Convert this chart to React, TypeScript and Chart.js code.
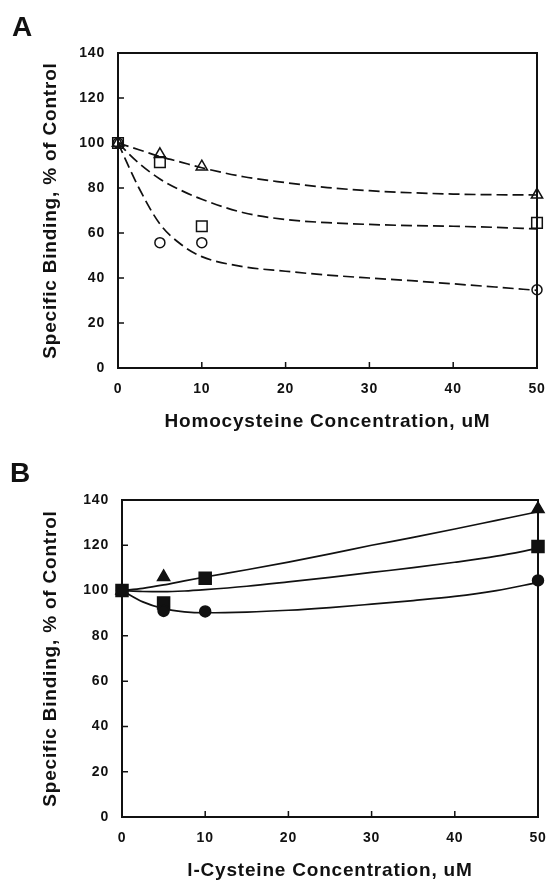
import React, { useEffect, useRef } from 'react';
import { Chart, registerables } from 'chart.js';

Chart.register(...registerables);

// ---- Shared axis values ----
const xMin = 0;
const xMax = 50;
const yMin = 0;
const yMax = 140;
const yStep = 20;
const xInnerTicks = [10, 20, 30, 40];
const yInnerTicks = [20, 40, 60, 80, 100, 120];

// ---- Panel A: Homocysteine (open symbols, dashed fits) ----
const concA = [0, 5, 10, 50];
const triangleA = [100, 95, 89.5, 77];
const squareA = [100, 91.5, 63, 64.5];
const circleA = [100, 55.7, 55.7, 34.8];

const fitX = [0, 2.5, 5, 7.5, 10, 15, 20, 25, 30, 35, 40, 45, 50];
const fitTriangleA = [100, 97, 94, 91.5, 89, 85, 82.4, 80.2, 78.8, 77.9, 77.3, 77, 76.9];
const fitSquareA = [100, 91, 84, 79, 75, 69, 66, 64.6, 63.8, 63.3, 63, 62.5, 61.8];
const fitCircleA = [100, 80, 64, 55, 49.5, 45, 43, 41.3, 40, 38.8, 37.4, 36, 34.5];

// ---- Panel B: l-Cysteine (filled symbols, solid fits) ----
const concB = [0, 5, 10, 50];
const concTriangleB = [0, 5, 50];
const triangleB = [100, 106, 136];
const squareB = [100, 94.5, 105.4, 119.5];
const circleB = [100, 91, 90.8, 104.5];

const fitTriangleB = [100, 101, 102.5, 104.3, 106, 109.2, 112.6, 116.2, 120, 123.5, 127.2, 131, 134.8];
const fitSquareB = [100, 99.6, 99.5, 99.8, 100.4, 101.9, 103.8, 105.8, 108, 110.1, 112.5, 115.2, 118.6];
const fitCircleB = [100, 95, 92, 90.6, 90.2, 90.5, 91.3, 92.5, 94, 95.6, 97.4, 100, 103.6];

const panelLabels = ['A', 'B'];
const xTitles = ['Homocysteine Concentration, uM', 'l-Cysteine Concentration, uM'];
const yTitle = 'Specific Binding, % of Control';

const FONT = "'Liberation Sans', Arial, sans-serif";
const INK = '#111111';

type PanelCfg = {
  label: string;
  labelX: number;
  labelY: number;
  xTitle: string;
  yAxisWidth: number;
  xAxisHeight: number;
  padTop: number;
  padRight: number;
  xTitlePadBottom: number;
  filled: boolean;
  dash: number[];
  markers: { style: string; radius: number; xs: number[]; values: number[] }[];
  fits: number[][];
};

const pts = (xs: number[], ys: number[]) => xs.map((x, i) => ({ x, y: ys[i] }));

function makeChart(canvas: HTMLCanvasElement, cfg: PanelCfg) {
  const framePlugin = {
    id: 'frame',
    beforeDraw(chart: any) {
      chart.ctx.letterSpacing = '0.8px';
    },
    beforeDatasetsDraw(chart: any) {
      const { ctx, chartArea } = chart;
      const xs = chart.scales.x;
      const ys = chart.scales.y;
      ctx.save();
      ctx.letterSpacing = '0px';
      ctx.strokeStyle = INK;
      ctx.lineWidth = 2;
      ctx.strokeRect(chartArea.left, chartArea.top, chartArea.right - chartArea.left, chartArea.bottom - chartArea.top);
      ctx.lineWidth = 1.5;
      ctx.beginPath();
      for (const v of xInnerTicks) {
        const px = xs.getPixelForValue(v);
        ctx.moveTo(px, chartArea.bottom);
        ctx.lineTo(px, chartArea.bottom - 6);
      }
      for (const v of yInnerTicks) {
        const py = ys.getPixelForValue(v);
        ctx.moveTo(chartArea.left, py);
        ctx.lineTo(chartArea.left + 6, py);
      }
      ctx.stroke();
      ctx.restore();
    },
    afterDraw(chart: any) {
      const { ctx } = chart;
      ctx.save();
      ctx.letterSpacing = '0px';
      ctx.fillStyle = INK;
      ctx.font = `bold 28px ${FONT}`;
      ctx.textAlign = 'left';
      ctx.textBaseline = 'alphabetic';
      ctx.fillText(cfg.label, cfg.labelX, cfg.labelY);
      ctx.restore();
    },
  };

  const markerSets = cfg.markers.map((m) => ({
    type: 'scatter' as const,
    data: pts(m.xs, m.values),
    showLine: false,
    clip: false,
    pointStyle: m.style,
    pointRadius: m.radius,
    pointBorderWidth: 1.5,
    pointBorderColor: INK,
    pointBackgroundColor: cfg.filled ? INK : 'rgba(255,255,255,0)',
    borderColor: INK,
    backgroundColor: cfg.filled ? INK : 'rgba(255,255,255,0)',
  }));

  const fitSets = cfg.fits.map((f) => ({
    type: 'scatter' as const,
    data: pts(fitX, f),
    showLine: true,
    clip: false,
    pointRadius: 0,
    borderColor: INK,
    borderWidth: 1.7,
    borderDash: cfg.dash,
    cubicInterpolationMode: 'monotone' as const,
    fill: false,
  }));

  return new Chart(canvas, {
    type: 'scatter',
    data: { datasets: [...markerSets, ...fitSets] as any },
    options: {
      responsive: false,
      animation: false,
      events: [],
      layout: { padding: { left: 0, right: cfg.padRight, top: cfg.padTop, bottom: 0 } },
      plugins: { legend: { display: false }, tooltip: { enabled: false }, title: { display: false } },
      scales: {
        x: {
          type: 'linear',
          min: xMin,
          max: xMax,
          grid: { display: false, drawTicks: false },
          border: { display: false },
          ticks: {
            stepSize: 10,
            padding: 13,
            color: INK,
            font: { family: FONT, size: 14, weight: 'bold' },
          },
          title: {
            display: true,
            text: cfg.xTitle,
            color: INK,
            font: { family: FONT, size: 19, weight: 'bold', lineHeight: 1 },
            padding: { top: 0, bottom: cfg.xTitlePadBottom },
          },
          afterFit: (scale: any) => {
            scale.height = cfg.xAxisHeight;
            scale.paddingLeft = 0;
            scale.paddingRight = 0;
          },
        },
        y: {
          type: 'linear',
          min: yMin,
          max: yMax,
          grid: { display: false, drawTicks: false },
          border: { display: false },
          ticks: {
            stepSize: yStep,
            padding: 13,
            color: INK,
            font: { family: FONT, size: 14, weight: 'bold' },
          },
          title: {
            display: true,
            text: yTitle,
            color: INK,
            font: { family: FONT, size: 19, weight: 'bold', lineHeight: 1 },
            padding: { top: 41, bottom: 0 },
          },
          afterFit: (scale: any) => {
            scale.width = cfg.yAxisWidth;
            scale.paddingTop = 0;
            scale.paddingBottom = 0;
          },
        },
      },
    } as any,
    plugins: [framePlugin],
  });
}

const panelA: PanelCfg = {
  label: panelLabels[0],
  labelX: 12,
  labelY: 36,
  xTitle: xTitles[0],
  yAxisWidth: 118,
  xAxisHeight: 72,
  padTop: 53,
  padRight: 12,
  xTitlePadBottom: 9,
  filled: false,
  dash: [11, 5],
  markers: [
    { style: 'circle', radius: 5, xs: concA, values: circleA },
    { style: 'rect', radius: 7.5, xs: concA, values: squareA },
    { style: 'triangle', radius: 6.5, xs: concA, values: triangleA },
  ],
  fits: [fitTriangleA, fitSquareA, fitCircleA],
};

const panelB: PanelCfg = {
  label: panelLabels[1],
  labelX: 10,
  labelY: 42,
  xTitle: xTitles[1],
  yAxisWidth: 122,
  xAxisHeight: 63,
  padTop: 60,
  padRight: 11,
  xTitlePadBottom: 0,
  filled: true,
  dash: [],
  markers: [
    { style: 'circle', radius: 5.5, xs: concB, values: circleB },
    { style: 'rect', radius: 8.5, xs: concB, values: squareB },
    { style: 'triangle', radius: 7, xs: concTriangleB, values: triangleB },
  ],
  fits: [fitTriangleB, fitSquareB, fitCircleB],
};

function Panel({ cfg, top }: { cfg: PanelCfg; top: number }) {
  const ref = useRef<HTMLCanvasElement | null>(null);
  useEffect(() => {
    if (!ref.current) return;
    const chart = makeChart(ref.current, cfg);
    return () => chart.destroy();
  }, [cfg]);
  return (
    <div style={{ position: 'absolute', left: 0, top, width: 549, height: 440 }}>
      <canvas ref={ref} width={549} height={440} style={{ display: 'block', width: 549, height: 440 }} />
    </div>
  );
}

export default function App() {
  return (
    <div style={{ position: 'absolute', left: 0, top: 0, width: 549, height: 880, background: '#ffffff' }}>
      <Panel cfg={panelA} top={0} />
      <Panel cfg={panelB} top={440} />
    </div>
  );
}
